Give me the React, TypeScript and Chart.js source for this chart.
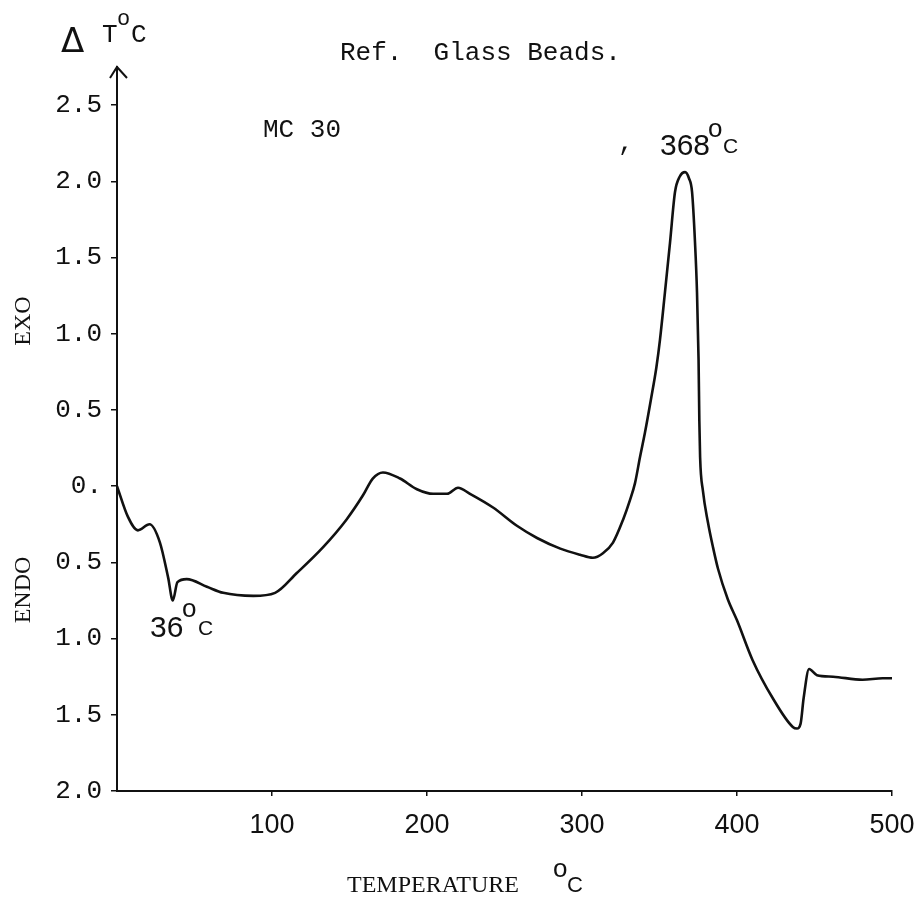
import React, { useEffect, useRef } from "react";
import { Chart, registerables } from "chart.js";

Chart.register(...registerables);

// Temperature (°C) along the trace
const temperature = [
  0, 7, 13.5, 21, 27.7, 33, 36, 39, 45, 58,
  68.5, 88, 102, 116, 133, 148, 158.7, 165, 171.6, 182.6,
  193.5, 204, 213, 220, 227.7, 242.6, 258, 271, 286, 298.7,
  307, 313.5, 320, 326.5, 331, 334.2, 337.4, 340.6, 344.5, 348,
  350.3, 353.5, 356.8, 360, 363, 366.5, 369, 371, 372.9, 374.2,
  375.2, 375.7, 376.2, 378, 381.3, 384.5, 387.7, 394, 400, 410,
  423, 436, 438.7, 441, 443, 446.5, 451.6, 462, 481, 494,
  500,
];
// ΔT (°C): exo positive, endo negative
const deltaT = [
  0, -0.2, -0.29, -0.25, -0.37, -0.6, -0.75, -0.63, -0.61, -0.66,
  -0.7, -0.72, -0.7, -0.57, -0.4, -0.22, -0.06, 0.05, 0.09, 0.05,
  -0.02, -0.05, -0.05, -0.01, -0.05, -0.14, -0.26, -0.34, -0.41, -0.45,
  -0.47, -0.44, -0.37, -0.22, -0.09, 0.02, 0.19, 0.35, 0.57, 0.78,
  0.96, 1.27, 1.6, 1.93, 2.03, 2.06, 2.02, 1.93, 1.6, 1.27,
  0.83, 0.43, 0.19, -0.03, -0.24, -0.4, -0.54, -0.74, -0.88, -1.14,
  -1.39, -1.58, -1.59, -1.56, -1.39, -1.2, -1.24, -1.25, -1.27, -1.26,
  -1.26,
];

const xTickValues = [100, 200, 300, 400, 500];
const yTickValues = [-2, -1.5, -1, -0.5, 0, 0.5, 1, 1.5, 2, 2.5];
const yTickLabels = ["2.0", "1.5", "1.0", "0.5", "0.", "0.5", "1.0", "1.5", "2.0", "2.5"];

const titleText = "Ref.  Glass Beads.";
const sampleText = "MC 30";
const xTitle = "TEMPERATURE";
const exoText = "EXO";
const endoText = "ENDO";
const peakHigh = "368";
const peakLow = "36";

const MONO = "'Liberation Mono', 'DejaVu Sans Mono', monospace";
const SANS = "'Liberation Sans', Arial, sans-serif";
const SERIF = "'Liberation Serif', 'Times New Roman', serif";
const INK = "#111";

function put(ctx: CanvasRenderingContext2D, s: string, x: number, y: number, font: string, align: CanvasTextAlign = "left") {
  ctx.font = font;
  ctx.textAlign = align;
  ctx.textBaseline = "alphabetic";
  ctx.fillStyle = INK;
  ctx.fillText(s, x, y);
}

const decor = {
  id: "decor",
  afterDraw(chart: any) {
    const ctx: CanvasRenderingContext2D = chart.ctx;
    const { left, top } = chart.chartArea;
    ctx.save();
    // arrow head on y axis
    ctx.strokeStyle = INK;
    ctx.lineWidth = 2;
    ctx.beginPath();
    ctx.moveTo(left - 7, top + 11);
    ctx.lineTo(left, top);
    ctx.lineTo(left + 10, top + 11);
    ctx.stroke();

    // ΔT°C
    put(ctx, "Δ", 61, 52, `34px 'DejaVu Sans', sans-serif`);
    put(ctx, "T", 102, 42, `26px ${MONO}`);
    put(ctx, "o", 117, 25, `22px ${MONO}`);
    put(ctx, "C", 131, 42, `26px ${MONO}`);

    // title and sample
    put(ctx, titleText, 340, 60, `26px ${MONO}`);
    put(ctx, sampleText, 263, 137, `26px ${MONO}`);

    // peak labels
    put(ctx, ",", 618, 150, `26px ${MONO}`);
    put(ctx, peakHigh, 660, 155, `30px ${SANS}`);
    put(ctx, "o", 708, 137, `26px ${SANS}`);
    put(ctx, "C", 723, 153, `21px ${SANS}`);

    put(ctx, peakLow, 150, 637, `30px ${SANS}`);
    put(ctx, "o", 182, 617, `26px ${SANS}`);
    put(ctx, "C", 198, 635, `21px ${SANS}`);

    // EXO / ENDO rotated
    ctx.font = `24px ${SERIF}`;
    ctx.textAlign = "center";
    ctx.textBaseline = "middle";
    ctx.fillStyle = INK;
    ctx.save();
    ctx.translate(24, 321);
    ctx.rotate(-Math.PI / 2);
    ctx.fillText(exoText, 0, 0);
    ctx.restore();
    ctx.save();
    ctx.translate(24, 590);
    ctx.rotate(-Math.PI / 2);
    ctx.fillText(endoText, 0, 0);
    ctx.restore();

    // x title
    put(ctx, xTitle, 347, 892, `24px ${SERIF}`);
    put(ctx, "o", 553, 877, `26px ${SANS}`);
    put(ctx, "C", 567, 892, `22px ${SANS}`);
    ctx.restore();
  },
};

export default function App() {
  const ref = useRef<HTMLCanvasElement | null>(null);

  useEffect(() => {
    if (!ref.current) return;
    const points = temperature.map((t, i) => ({ x: t, y: deltaT[i] }));
    const chart = new Chart(ref.current, {
      type: "scatter",
      data: {
        datasets: [
          {
            data: points,
            showLine: true,
            borderColor: INK,
            borderWidth: 2.6,
            pointRadius: 0,
            cubicInterpolationMode: "monotone",
            fill: false,
          },
        ],
      },
      options: {
        animation: false,
        responsive: false,
        devicePixelRatio: 1,
        layout: { padding: { left: 0, right: 30, top: 67, bottom: 0 } },
        plugins: { legend: { display: false }, tooltip: { enabled: false } },
        scales: {
          x: {
            type: "linear",
            min: 0,
            max: 500,
            afterBuildTicks: (s: any) => {
              s.ticks = xTickValues.map((v) => ({ value: v }));
            },
            afterFit: (s: any) => {
              s.height = 106;
              s.paddingLeft = 0;
              s.paddingRight = 0;
            },
            ticks: {
              autoSkip: false,
              maxRotation: 0,
              padding: 13,
              color: INK,
              font: { family: SANS, size: 27 },
              callback: (v: any) => String(v),
            },
            grid: { display: true, drawOnChartArea: false, drawTicks: true, tickLength: 5, color: INK, lineWidth: 1.5 },
            border: { display: true, color: INK, width: 2 },
          },
          y: {
            type: "linear",
            min: -2,
            max: 2.75,
            afterBuildTicks: (s: any) => {
              s.ticks = yTickValues.map((v) => ({ value: v }));
            },
            afterFit: (s: any) => {
              s.width = 117;
              s.paddingTop = 0;
              s.paddingBottom = 0;
            },
            ticks: {
              autoSkip: false,
              padding: 9,
              color: INK,
              font: { family: MONO, size: 26 },
              callback: (_v: any, i: number) => yTickLabels[i],
            },
            grid: { display: true, drawOnChartArea: false, drawTicks: true, tickLength: 6, color: INK, lineWidth: 1.5 },
            border: { display: true, color: INK, width: 2 },
          },
        },
      },
      plugins: [decor],
    });
    return () => chart.destroy();
  }, []);

  return (
    <div style={{ position: "fixed", left: 0, top: 0, width: 922, height: 897, background: "#fff" }}>
      <canvas ref={ref} width={922} height={897} style={{ width: 922, height: 897, display: "block" }} />
    </div>
  );
}
